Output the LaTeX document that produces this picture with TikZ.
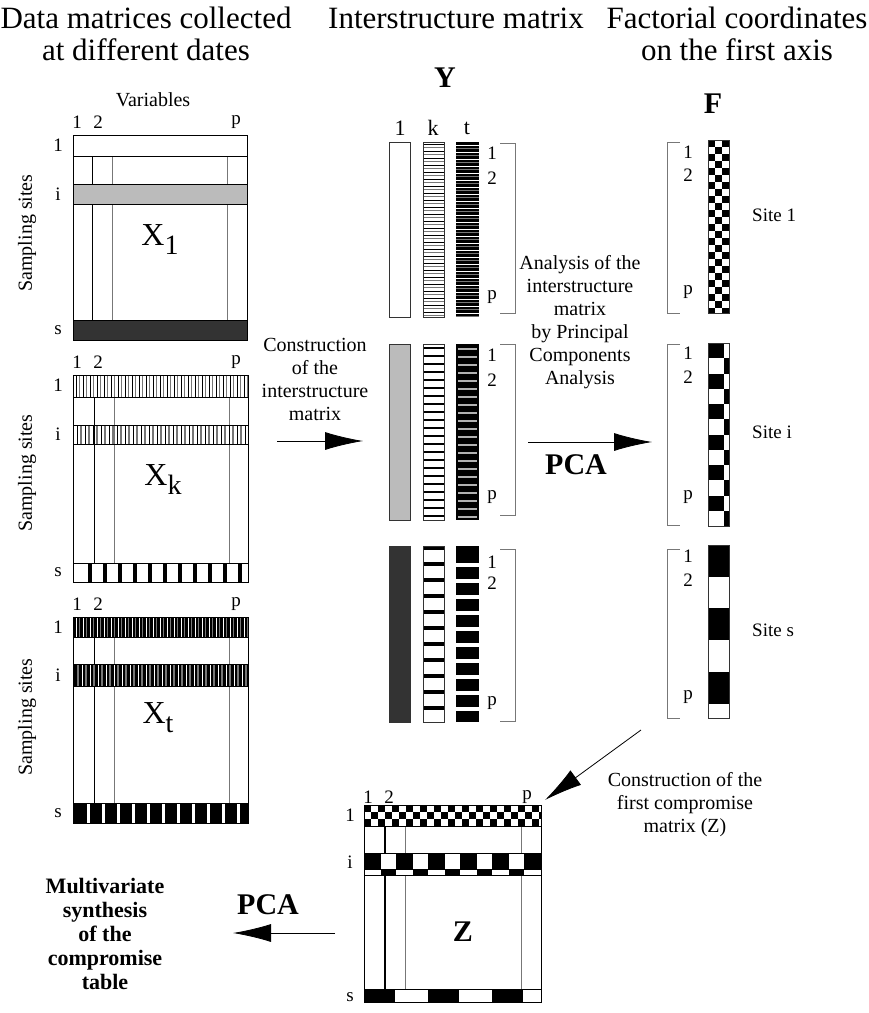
\documentclass[tikz,border=0pt]{standalone}
\usepackage{fontspec}
\setmainfont{Liberation Serif}
\usetikzlibrary{arrows.meta}
\definecolor{midgray}{HTML}{BBBBBB}
\definecolor{deepgray}{HTML}{333333}
\definecolor{linegray}{HTML}{777777}
\newcommand{\matname}[1]{X\raisebox{-9pt}{\fontsize{28}{28}\selectfont #1}}
\tikzset{
  >=latex,
  % Testi
  title/.style={font=\fontsize{31}{32}\selectfont, align=center},
  note/.style={font=\fontsize{20}{23}\selectfont, align=center},
  bnote/.style={font=\bfseries\fontsize{22}{24}\selectfont, align=center},
  idx/.style={font=\fontsize{19}{19}\selectfont, inner sep=0},
  big/.style={font=\bfseries\fontsize{30}{30}\selectfont},
  xname/.style={font=\fontsize{32}{32}\selectfont},
  % Matrici e colonne
  mat/.style={draw=black, line width=1pt},
  col/.style={draw=black!80, line width=0.9pt},
  bracket/.style={draw=linegray, line width=0.9pt},
  % Frecce
  bigarrow/.style={-{Latex[length=38pt,width=18pt]}, line width=0.8pt}
}

\begin{document}
\begin{tikzpicture}[x=1pt,y=-1pt]
  \useasboundingbox (0,0) rectangle (869,1013);
  % Titoli
  \node[title] (tit-data) at (146,34) {Data matrices collected\\at different dates};
  \node[title] (tit-inter) at (456,18) {Interstructure matrix};
  \node[title] (tit-fact) at (737,34) {Factorial coordinates\\on the first axis};
  \node[big] (lab-Y) at (445,78) {Y};
  \node[big] (lab-F) at (713,104) {F};
  \node[note] (lab-var) at (153,100) {Variables};
  % Etichette delle tre matrici X
  \foreach \m/\top/\ri/\rs/\ss in {1/135/194/330/233, k/375/434/572/473, t/617/675/813/717} {
    \node[idx] (c1-\m) at (77,\top-13) {1};
    \node[idx] (c2-\m) at (98,\top-13) {2};
    \node[idx] (cp-\m) at (236,\top-13) {p};
    \node[idx] (r1-\m) at (58,\top+10) {1};
    \node[idx] (ri-\m) at (58,\ri) {i};
    \node[idx] (rs-\m) at (58,\rs) {s};
    \node[note, rotate=90] (ss-\m) at (27,\ss) {Sampling sites};
  }
  % Matrice X1
  \foreach \x/\c in {92/black,112/linegray,227/linegray}
    \draw[draw=\c, line width=0.8pt] (\x,156) -- (\x,320);
  \draw[mat] (73,156) -- (247,156);
  \filldraw[mat, fill=midgray] (73,184) rectangle (247,204);
  \filldraw[mat, fill=deepgray] (73,320) rectangle (247,340);
  \draw[mat] (73,135) rectangle (247,340);
  \node[xname] (name-1) at (160,240) {\matname{1}};
  % Matrice Xk
  \foreach \x/\c in {94/black,114/linegray,229/linegray}
    \draw[draw=\c, line width=0.8pt] (\x,397) -- (\x,563);
  \begin{scope}
    \clip (73,375) rectangle (248,397);
    \foreach \x in {76,83,...,248} {
      \draw[black, line width=0.6pt] (\x,375) -- (\x,397);
      \draw[linegray, line width=1.4pt] (\x+3.5,375) -- (\x+3.5,397);
    }
  \end{scope}
  \begin{scope}
    \clip (73,425) rectangle (248,444);
    \foreach \x in {77,85,...,248} {
      \draw[black, line width=1pt] (\x,425) -- (\x,444);
      \draw[linegray, line width=1.8pt] (\x+4,425) -- (\x+4,444);
    }
  \end{scope}
  \foreach \x in {88,103,...,240}
    \fill (\x,563) rectangle ++(3.5,19);
  \draw[mat] (73,397) -- (248,397) (73,425) rectangle (248,444) (73,563) -- (248,563);
  \draw[mat] (73,375) rectangle (248,582);
  \node[xname] (name-k) at (163,480) {\matname{k}};
  % Matrice Xt
  \foreach \x/\c in {94/black,114/linegray,229/linegray}
    \draw[draw=\c, line width=0.8pt] (\x,637) -- (\x,803);
  \fill (73,617) rectangle (248,637);
  \fill (73,664) rectangle (248,686);
  \fill (73,803) rectangle (248,823);
  \begin{scope}
    \clip (73,617) rectangle (248,637);
    \foreach \x in {76,83,...,248} {
      \draw[white, line width=0.8pt] (\x,617) -- (\x,637);
      \draw[linegray, line width=1pt] (\x+3.5,617) -- (\x+3.5,637);
    }
  \end{scope}
  \begin{scope}
    \clip (73,664) rectangle (248,686);
    \foreach \x in {78,86,...,248} {
      \draw[linegray, line width=1.8pt] (\x,664) -- (\x,686);
      \draw[white, line width=0.8pt] (\x+4,664) -- (\x+4,686);
    }
  \end{scope}
  \foreach \x in {87,102,...,240}
    \fill[white] (\x,803) rectangle ++(3,20);
  \draw[mat] (73,637) -- (248,637) (73,664) rectangle (248,686) (73,803) -- (248,803);
  \draw[mat] (73,617) rectangle (248,823);
  \node[xname] (name-t) at (158,718) {\matname{t}};

  % Freccia verso Y
  \node[note] (txt-constr) at (315,379) {Construction\\of the\\interstructure\\matrix};
  \coordinate (a1-from) at (277,441);
  \coordinate (a1-to) at (363,441);
  \draw[bigarrow] (a1-from) -- (a1-to);

  % Matrice Y: intestazioni
  \node[idx, font=\fontsize{22}{22}\selectfont] (yh-1) at (400,128) {1};
  \node[idx, font=\fontsize{22}{22}\selectfont] (yh-k) at (433,128) {k};
  \node[idx, font=\fontsize{22}{22}\selectfont] (yh-t) at (467,128) {t};
  % Gruppo 1
  \draw[col] (389,142) rectangle (410,317);
  \begin{scope}
    \clip (423,142) rectangle (444,317);
    \foreach \y in {144,151,...,317} {
      \draw[black, line width=0.8pt] (423,\y) -- (444,\y);
      \draw[linegray, line width=1pt] (423,\y+3.5) -- (444,\y+3.5);
    }
  \end{scope}
  \draw[col] (423,142) rectangle (444,317);
  \fill (456,142) rectangle (479,317);
  \begin{scope}
    \clip (456,142) rectangle (479,317);
    \foreach \y in {145,152,...,317} {
      \draw[white, line width=0.8pt] (456,\y) -- (479,\y);
      \draw[linegray, line width=1pt] (456,\y+3.5) -- (479,\y+3.5);
    }
  \end{scope}
  % Gruppo 2
  \filldraw[col, fill=midgray] (389,344) rectangle (410,520);
  \foreach \y in {348,356,...,518}
    \draw[black, line width=1.3pt] (423,\y) -- (444,\y);
  \draw[col] (423,344) rectangle (444,520);
  \fill (456,344) rectangle (479,520);
  \foreach \y in {349,357,...,518}
    \draw[black!30, line width=1.5pt] (458,\y) -- (477,\y);
  % Gruppo 3
  \filldraw[col, fill=deepgray] (389,546) rectangle (410,722);
  \foreach \y in {546,562,...,710}
    \fill (423,\y) rectangle ++(21,3.5);
  \draw[col] (423,546) rectangle (444,722);
  \fill (456,546) rectangle (479,722);
  \foreach \y in {563,579,...,710}
    \fill[white] (456,\y) rectangle ++(23,3.5);
  % Indici e parentesi di Y
  \foreach \g/\top/\bot/\ya/\yb/\yp in {1/143/313/153/178/297, 2/344/515/355/380/497, 3/549/721/562/583/703} {
    \node[idx] (y1-\g) at (492,\ya) {1};
    \node[idx] (y2-\g) at (492,\yb) {2};
    \node[idx] (yp-\g) at (492,\yp) {p};
    \draw[bracket] (500,\top) -- (515,\top) -- (515,\bot) -- (500,\bot);
  }

  % Freccia ACP
  \node[note] (txt-anal) at (580,322) {Analysis of the\\interstructure\\matrix\\by Principal\\Components\\Analysis};
  \coordinate (a2-from) at (528,442);
  \coordinate (a2-to) at (652,442);
  \draw[bigarrow] (a2-from) -- (a2-to);
  \node[big] (pca-1) at (576,465) {PCA};

  % Coordinate fattoriali F
  \begin{scope}
    \clip (708,140) rectangle (729,313);
    \foreach \r in {0,2,...,24} {
      \foreach \c in {0,2}
        \fill (708+7*\c,140+7*\r) rectangle ++(7,7);
      \fill (715,147+7*\r) rectangle ++(7,7);
    }
  \end{scope}
  \draw[col] (708,140) rectangle (729,313);
  \foreach \r in {0,2,...,10} {
    \fill (708,343+15.25*\r) rectangle ++(16,15.25);
    \fill (724,358.25+15.25*\r) rectangle ++(5,15.25);
  }
  \draw[col] (708,343) rectangle (729,526);
  \foreach \r in {0,2,4}
    \fill (708,545+31.7*\r) rectangle ++(21,31.7);
  \draw[col] (708,545) rectangle (729,718);
  \foreach \s/\top/\bot/\ya/\yb/\yp/\ys in {1/142/313/152/175/292/215, i/344/525/353/377/497/432, s/549/718/556/580/697/630} {
    \node[idx] (f1-\s) at (688,\ya) {1};
    \node[idx] (f2-\s) at (688,\yb) {2};
    \node[idx] (fp-\s) at (688,\yp) {p};
    \draw[bracket] (680,\top) -- (667,\top) -- (667,\bot) -- (680,\bot);
    \node[idx, anchor=west] (site-\s) at (752,\ys) {Site \s};
  }

  % Freccia verso Z
  \coordinate (a3-from) at (641,730);
  \coordinate (a3-to) at (545,800);
  \draw[bigarrow] (a3-from) -- (a3-to);
  \node[note] (txt-comp) at (685,805) {Construction of the\\first compromise\\matrix (Z)};

  % Matrice di compromesso Z
  \foreach \x/\c/\w in {385/black/1.3,405/linegray/0.8,521/linegray/0.8}
    \draw[draw=\c, line width=\w pt] (\x,826) -- (\x,989);
  \fill[white] (364,853) rectangle (541,875);
  \begin{scope}
    \clip (364,805) rectangle (541,826);
    \foreach \c in {0,2,...,26} {
      \fill (364+7*\c,805) rectangle ++(7,7);
      \fill (364+7*\c,819) rectangle ++(7,7);
      \fill (371+7*\c,812) rectangle ++(7,7);
    }
  \end{scope}
  \begin{scope}
    \clip (364,853) rectangle (541,875);
    \foreach \x in {364,396,...,541} {
      \fill (\x,853) rectangle ++(17,16);
      \fill (\x+17,869) rectangle ++(15,6);
    }
  \end{scope}
  \foreach \x in {364,428,492}
    \fill (\x,989) rectangle ++(31,13);
  \draw[mat] (364,826) -- (541,826) (364,853) rectangle (541,875) (364,869) -- (541,869) (364,989) -- (541,989);
  \draw[mat] (364,805) rectangle (541,1002);
  \node[idx] (zc-1) at (368,797) {1};
  \node[idx] (zc-2) at (389,797) {2};
  \node[idx] (zc-p) at (527,797) {p};
  \node[idx] (zr-1) at (350,815) {1};
  \node[idx] (zr-i) at (350,862) {i};
  \node[idx] (zr-s) at (350,997) {s};
  \node[big] (lab-Z) at (463,932) {Z};

  % Sintesi finale
  \coordinate (a4-from) at (335,933);
  \coordinate (a4-to) at (233,933);
  \draw[bigarrow] (a4-from) -- (a4-to);
  \node[big] (pca-2) at (268,905) {PCA};
  \node[bnote] (txt-synth) at (105,934) {Multivariate\\synthesis\\of the\\compromise\\table};
\end{tikzpicture}
\end{document}
